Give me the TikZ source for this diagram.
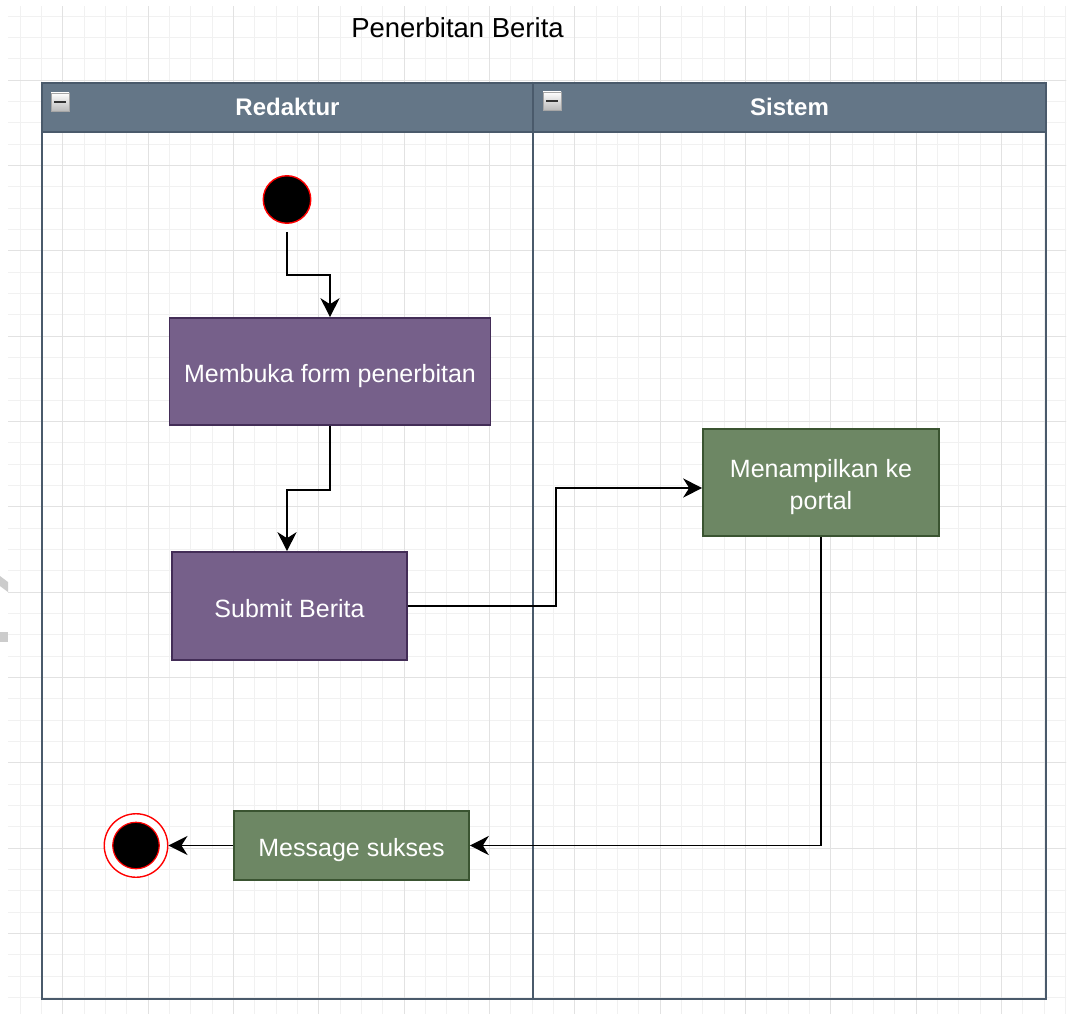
\documentclass[tikz,border=0pt]{standalone}
\usepackage{fontspec}
\setmainfont{Liberation Sans}
\usetikzlibrary{arrows.meta,calc}
\definecolor{lanefill}{HTML}{647687}
\definecolor{lanedraw}{HTML}{4A5A6B}
\definecolor{purplefill}{HTML}{76608A}
\definecolor{purpledraw}{HTML}{432D57}
\definecolor{greenfill}{HTML}{6D8764}
\definecolor{greendraw}{HTML}{3A5431}
\definecolor{gridminor}{HTML}{F1F1F1}
\definecolor{gridmajor}{HTML}{E2E2E2}
\tikzset{
  purplebox/.style={draw=purpledraw, fill=purplefill, line width=1.6pt, text=white,
    font=\fontsize{25}{32}\selectfont, align=center, inner sep=0pt,
    text height=24pt, text depth=2pt},
  greenbox/.style={draw=greendraw, fill=greenfill, line width=1.6pt, text=white,
    font=\fontsize{25}{32}\selectfont, align=center, inner sep=0pt,
    text height=24pt, text depth=2pt},
  boxlabel/.style={text=white, font=\fontsize{25}{32}\selectfont, align=center, inner sep=0pt},
  arr/.style={draw=black, line width=1.9pt,
    -{Stealth[length=19pt,width=19pt,inset=6pt]}},
  lanehead/.style={text=white, font=\fontsize{24}{28}\selectfont\bfseries},
  minusicon/.style={draw=gray!70, line width=0.6pt, top color=white, bottom color=gray!55,
    minimum width=18pt, minimum height=18pt, inner sep=0pt},
}
\begin{document}
\begin{tikzpicture}[x=1pt,y=-1pt]
\useasboundingbox (0,0) rectangle (1069,1014);
\fill[white] (0,0) rectangle (1069,1014);
% grid
\begin{scope}
  \clip (8,7) rectangle (1066,1013);
  \foreach \k in {-2,...,47}{
    \pgfmathsetmacro{\xx}{62.667+\k*21.333}
    \draw[gridminor, line width=0.8pt] (\xx,0) -- (\xx,1014);
  }
  \foreach \k in {-3,...,43}{
    \pgfmathsetmacro{\yy}{80+\k*21.333}
    \draw[gridminor, line width=0.8pt] (0,\yy) -- (1069,\yy);
  }
  \foreach \k in {0,...,11}{
    \pgfmathsetmacro{\xx}{62.667+\k*85.333}
    \draw[gridmajor, line width=0.9pt] (\xx,0) -- (\xx,1014);
  }
  \foreach \k in {0,...,10}{
    \pgfmathsetmacro{\yy}{80+\k*85.333}
    \draw[gridmajor, line width=0.9pt] (0,\yy) -- (1069,\yy);
  }
\end{scope}
% watermark fragments at left edge
\fill[black!20] (0,576) -- (8,582) -- (8,592) -- (0,586) -- cycle;
\fill[black!20] (0,632) rectangle (8,642);
% title
\node[font=\fontsize{27.5}{32}\selectfont, text height=24pt, text depth=2pt, inner sep=0pt] (title) at (457.5,26.5) {Penerbitan Berita};
% swimlanes
\fill[lanefill] (42,83) rectangle (1046,132);
\draw[lanedraw, line width=2pt] (42,83) rectangle (1046,999);
\draw[lanedraw, line width=2pt] (42,132) -- (1046,132);
\draw[lanedraw, line width=2pt] (533,83) -- (533,999);
\node[lanehead] (l1) at (287.5,107) {Redaktur};
\node[lanehead] (l2) at (789.5,107) {Sistem};
\node[minusicon] (m1) at (60,102) {};
\draw[black!80, line width=2pt] ($(m1.center)+(-6,0)$) -- ($(m1.center)+(6,0)$);
\node[minusicon] (m2) at (552,101) {};
\draw[black!80, line width=2pt] ($(m2.center)+(-6,0)$) -- ($(m2.center)+(6,0)$);
% nodes
\node[circle, fill=black, draw=red, line width=1.4pt, minimum size=47.5pt, inner sep=0pt] (start) at (287,199.5) {};
\node[purplebox, minimum width=321pt, minimum height=107pt] (b1) at (330,371.5) {Membuka form penerbitan};
\node[purplebox, minimum width=235pt, minimum height=108pt] (b2) at (289.5,606) {Submit Berita};
\node[greenbox, minimum width=236pt, minimum height=107pt, text height=, text depth=] (b3) at (821,482.5) {};
\node[boxlabel] (b3t) at (821,487) {Menampilkan ke\\portal};
\node[greenbox, minimum width=235pt, minimum height=69pt] (b4) at (351.5,845.5) {Message sukses};
\node[circle, fill=white, draw=red, line width=1.4pt, minimum size=63.5pt, inner sep=0pt] (fin) at (136,845.5) {};
\node[circle, fill=black, draw=red, line width=1.2pt, minimum size=46.5pt, inner sep=0pt] (finin) at (fin.center) {};
% connectors
\draw[arr, shorten <=8pt] (start.south) |- (330,275) -- (b1.north);
\draw[arr] (b1.south) -- ++(0,64) -| ([xshift=-2.5pt]b2.north);
\draw[arr] (b2.east) -- ++(148,0) |- ([yshift=-5.5pt]b3.west);
\draw[arr] (b3.south) |- (b4.east);
\draw[arr] (b4.west) -- (fin.east);
\end{tikzpicture}
\end{document}
